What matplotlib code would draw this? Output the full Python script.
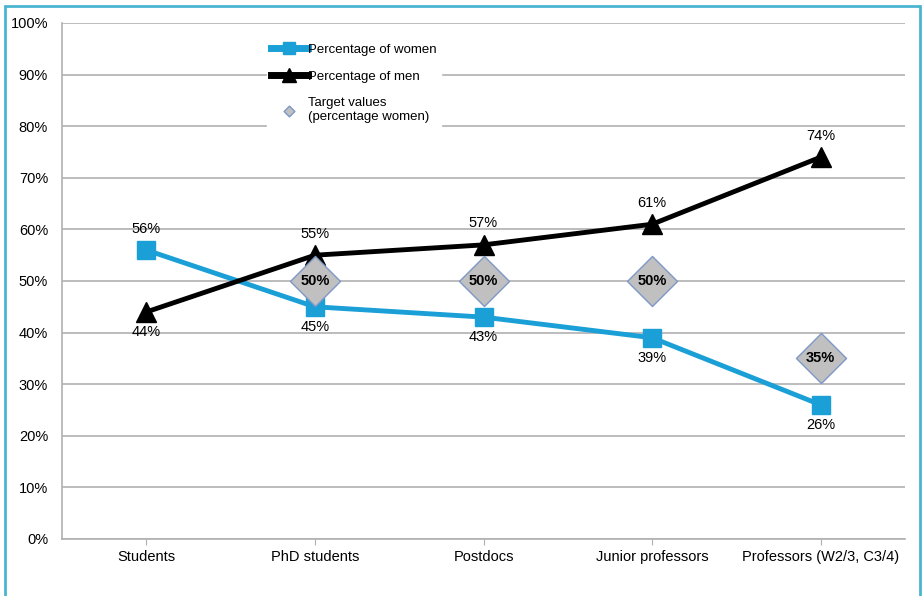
import matplotlib
matplotlib.use("Agg")
import matplotlib.pyplot as plt
from matplotlib.patches import Rectangle

plt.rcParams['font.family'] = ['Liberation Sans', 'DejaVu Sans']

# data
categories = ["Students", "PhD students", "Postdocs", "Junior professors", "Professors (W2/3, C3/4)"]
women = [56, 45, 43, 39, 26]
men = [44, 55, 57, 61, 74]
target_idx = [1, 2, 3, 4]
target_vals = [50, 50, 50, 35]
yticks = list(range(0, 101, 10))

blue = "#1a9fd6"

fig = plt.figure(figsize=(9.23, 5.96), dpi=100)
ax = fig.add_axes([62/923, 1 - 539/596, (905-62)/923, (539-23)/596])

x = list(range(len(categories)))
ax.plot(x, women, color=blue, lw=3.5, marker="s", ms=13, zorder=3,
        label="Percentage of women")
ax.plot(x, men, color="black", lw=3.5, marker="^", ms=14, zorder=3,
        label="Percentage of men")
ax.scatter(target_idx, target_vals, marker="D", s=650, color="#c0c0c0",
           edgecolor="#7d97c7", lw=1, zorder=4,
           label="Target values\n(percentage women)")

for i, v in zip(target_idx, target_vals):
    ax.text(i, v, f"{v}%", ha="center", va="center", fontsize=10.5,
            fontweight="bold", zorder=5)

# value labels
for i in x:
    w, m = women[i], men[i]
    if w > m:
        ax.text(i, w + 2.8, f"{w}%", ha="center", va="bottom", fontsize=10.5)
        ax.text(i, m - 2.5, f"{m}%", ha="center", va="top", fontsize=10.5)
    else:
        ax.text(i, m + 2.8, f"{m}%", ha="center", va="bottom", fontsize=10.5)
        ax.text(i, w - 2.5, f"{w}%", ha="center", va="top", fontsize=10.5)

ax.set_xlim(-0.5, len(categories) - 0.5)
ax.set_ylim(0, 100)
ax.set_yticks(yticks)
ax.set_yticklabels([f"{t}%" for t in yticks], fontsize=10.5)
ax.set_xticks(x)
ax.set_xticklabels(categories, fontsize=10.5)
ax.yaxis.grid(True, color="#b0b0b0", lw=1.2)
ax.set_axisbelow(True)
ax.tick_params(axis="y", length=0, pad=10)
ax.tick_params(axis="x", length=4, color="#b0b0b0", pad=4)
for s in ["top", "right"]:
    ax.spines[s].set_visible(False)
for s in ["left", "bottom"]:
    ax.spines[s].set_color("#b0b0b0")
    ax.spines[s].set_linewidth(1.2)

leg = ax.legend(loc="upper left", bbox_to_anchor=(0.235, 0.98), frameon=True,
                fontsize=9.5, handlelength=2.8, markerscale=0.7, borderpad=0.3,
                labelspacing=1.1, handletextpad=0.05, fancybox=False)
leg.get_frame().set_edgecolor("white")
leg.get_frame().set_facecolor("white")
leg.get_frame().set_alpha(1)
leg.legend_handles[2].set_sizes([30])
leg.legend_handles[0].set_linewidth(5)
leg.legend_handles[1].set_linewidth(5)

fig.patches.append(Rectangle((5/923, -0.01), (920-5)/923, 1 - 6/596 + 0.01,
                             transform=fig.transFigure, fill=False,
                             edgecolor="#4bb4d0", lw=2))

fig.savefig("out.png", dpi=100)
